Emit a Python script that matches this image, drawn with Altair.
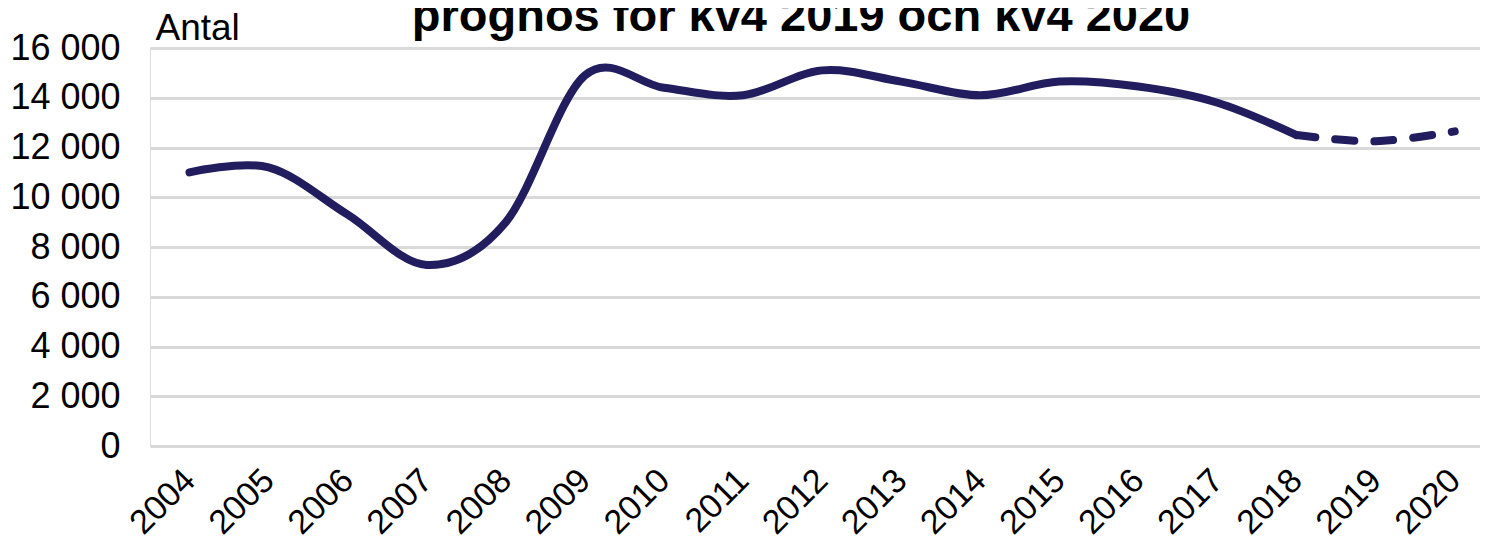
import altair as alt
import pandas as pd

# ---- data ----
years = [2004, 2005, 2006, 2007, 2008, 2009, 2010, 2011, 2012,
         2013, 2014, 2015, 2016, 2017, 2018, 2019, 2020]
antal = [11000, 11200, 9300, 7280, 9000, 14900, 14400, 14100, 15100,
         14650, 14100, 14650, 14450, 13800, 12500, 12250, 12650]
forecast_from = 2018
y_ticks = [0, 2000, 4000, 6000, 8000, 10000, 12000, 14000, 16000]
title_text = "prognos för kv4 2019 och kv4 2020"
y_title = "Antal"

LINE = "#211D5E"
FONT = "Liberation Sans"

df = pd.DataFrame({"year": years, "antal": antal})

x_enc = alt.X(
    "year:Q",
    scale=alt.Scale(domain=[2003.5, 2020.32], nice=False, zero=False),
    axis=alt.Axis(
        values=years, format="d", labelAngle=-45, labelAlign="right",
        labelBaseline="middle", labelPadding=29, labelFontSize=34,
        labelFont=FONT, labelColor="#000000", labelOverlap=False,
        labelFlush=False, grid=False, ticks=False, domain=False, title=None,
    ),
)
y_enc = alt.Y(
    "antal:Q",
    scale=alt.Scale(domain=[0, 16000], nice=False),
    axis=alt.Axis(
        values=y_ticks,
        labelExpr="replace(format(datum.value, ','), ',', ' ')",
        labelFontSize=36, labelFont=FONT, labelColor="#000000",
        labelPadding=30, ticks=False, domain=False,
        grid=True, gridColor="#d9d9d9", gridWidth=3,
        title=y_title, titleAngle=0, titleAlign="left",
        titleBaseline="alphabetic", titleX=5, titleY=-9,
        titleFontSize=37, titleFontWeight="normal", titleFont=FONT,
        titleColor="#000000",
    ),
)

base = alt.Chart(df)

solid = base.transform_filter(alt.datum.year <= forecast_from).mark_line(
    interpolate="cardinal", strokeWidth=8, color=LINE, strokeCap="round",
    strokeJoin="round",
).encode(x=x_enc, y=y_enc)

dashed = base.transform_filter(alt.datum.year >= forecast_from).mark_line(
    interpolate="cardinal", strokeWidth=8, color=LINE, strokeCap="round",
    strokeDash=[19, 20],
).encode(x=x_enc, y=y_enc)

title = alt.Chart(pd.DataFrame({"t": [title_text]})).mark_text(
    font=FONT, fontSize=47, fontWeight="bold", align="center",
    baseline="alphabetic", color="#000000",
).encode(text="t:N", x=alt.value(651), y=alt.value(-17))

chart = alt.layer(solid, dashed, title).properties(
    width=1330, height=398,
    autosize=alt.AutoSizeParams(type="none"),
    padding={"left": 142, "top": 40, "right": 0, "bottom": 97},
).configure_view(stroke=None).configure(background="white")

chart.save("out.html", embed_options={"renderer": "svg", "actions": False})
